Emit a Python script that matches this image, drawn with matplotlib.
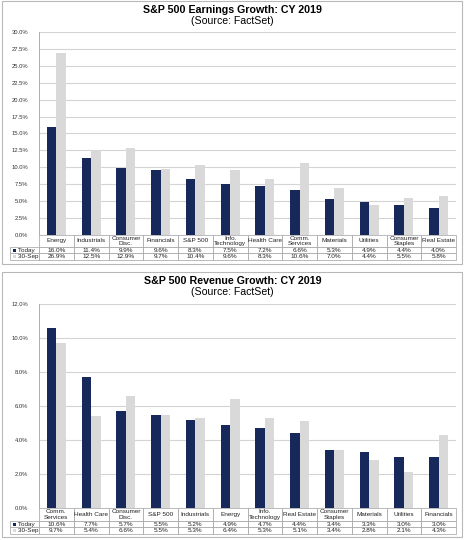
import numpy as np
import matplotlib
matplotlib.use('Agg')
import matplotlib.pyplot as plt
from matplotlib.patches import Rectangle

plt.rcParams['font.family'] = ['Liberation Sans', 'DejaVu Sans']

# Earnings growth data (CY 2019)
earn_cats = ['Energy', 'Industrials', 'Consumer\nDisc.', 'Financials', 'S&P 500',
             'Info.\nTechnology', 'Health Care', 'Comm.\nServices', 'Materials',
             'Utilities', 'Consumer\nStaples', 'Real Estate']
earn_today = [16.0, 11.4, 9.9, 9.6, 8.3, 7.5, 7.2, 6.6, 5.3, 4.9, 4.4, 4.0]
earn_sep = [26.9, 12.5, 12.9, 9.7, 10.4, 9.6, 8.3, 10.6, 7.0, 4.4, 5.5, 5.8]

# Revenue growth data (CY 2019)
rev_cats = ['Comm.\nServices', 'Health Care', 'Consumer\nDisc.', 'S&P 500', 'Industrials',
            'Energy', 'Info.\nTechnology', 'Real Estate', 'Consumer\nStaples', 'Materials',
            'Utilities', 'Financials']
rev_today = [10.6, 7.7, 5.7, 5.5, 5.2, 4.9, 4.7, 4.4, 3.4, 3.3, 3.0, 3.0]
rev_sep = [9.7, 5.4, 6.6, 5.5, 5.3, 6.4, 5.3, 5.1, 3.4, 2.8, 2.1, 4.3]

NAVY = '#16295a'
LIGHT = '#d9d9d9'
GRID = '#d4d4d4'
W, H = 465, 540


def draw_panel(fig, rect_px, box_px, title, cats, today, sep, ymax, ystep, table_px):
    left, top, right, bottom = rect_px
    ax = fig.add_axes([left / W, 1 - bottom / H, (right - left) / W, (bottom - top) / H])
    x = np.arange(len(cats))
    bw = 0.275
    ax.bar(x - bw / 2, today, bw, color=NAVY, zorder=3)
    ax.bar(x + bw / 2, sep, bw, color=LIGHT, zorder=3)
    ax.set_xlim(-0.5, len(cats) - 0.5)
    ax.set_ylim(0, ymax)
    ticks = np.arange(0, ymax + ystep / 2, ystep)
    ax.set_yticks(ticks)
    ax.set_yticklabels(['%.1f%%' % t for t in ticks], fontsize=4.2, color='#333333')
    ax.set_xticks([])
    ax.yaxis.grid(True, color=GRID, linewidth=0.8, zorder=0)
    ax.tick_params(axis='y', length=0, pad=8)
    for s in ['top', 'right', 'bottom']:
        ax.spines[s].set_visible(False)
    ax.spines['left'].set_color('#a0a0a0')
    ax.spines['left'].set_linewidth(0.6)

    # data table below the bars
    hdr, r1, r2 = table_px
    ah = bottom - top
    tot = r2 - bottom
    cell_text = [['%.1f%%' % v for v in today], ['%.1f%%' % v for v in sep]]
    tbl = ax.table(cellText=cell_text, colLabels=cats,
                   rowLabels=['    Today', '    30-Sep'],
                   cellLoc='center', rowLoc='left',
                   colWidths=[1.0 / len(cats)] * len(cats),
                   bbox=[0, -tot / ah, 1, tot / ah])
    tbl.auto_set_font_size(False)
    tbl.set_fontsize(4.6)
    hh = (hdr - bottom) / tot
    rh = (r1 - hdr) / tot
    lw = (left - 11) / (right - left)
    for (r, c), cell in tbl.get_celld().items():
        cell.set_edgecolor('#a0a0a0')
        cell.set_linewidth(0.5)
        cell.PAD = 0.02
        if r == 0:
            cell.set_height(hh)
        else:
            cell.set_height(rh)
        if c == -1:
            cell.set_width(lw)
        cell.get_text().set_color('#222222')
    tbl.set_zorder(4)

    # legend squares in the row label column
    for i, col in enumerate([NAVY, LIGHT]):
        yc = hdr + (i + 0.5) * (r1 - hdr)
        sq = 3.2
        fig.patches.append(Rectangle((13 / W, 1 - (yc + sq / 2) / H), sq / W, sq / H,
                                     transform=fig.transFigure, facecolor=col,
                                     edgecolor='none', zorder=6))

    # panel frame and titles
    bl, bt, br, bb = box_px
    fig.patches.append(Rectangle((bl / W, 1 - bb / H), (br - bl) / W, (bb - bt) / H,
                                 transform=fig.transFigure, facecolor='none',
                                 edgecolor='#b8b8b8', linewidth=0.8, zorder=1))
    fig.text(0.5, 1 - (bt + 9) / H, title, ha='center', va='center',
             fontsize=7.7, fontweight='bold')
    fig.text(0.5, 1 - (bt + 20) / H, '(Source: FactSet)', ha='center', va='center',
             fontsize=7.6)
    return ax


fig = plt.figure(figsize=(W / 100, H / 100), dpi=100)
fig.patch.set_facecolor('white')

draw_panel(fig, (39, 32, 456, 235), (2, 1, 462, 264),
           'S&P 500 Earnings Growth: CY 2019', earn_cats, earn_today, earn_sep,
           30.0, 2.5, (247, 253.3, 259.6))
draw_panel(fig, (39, 304, 456, 508), (2, 272, 462, 537),
           'S&P 500 Revenue Growth: CY 2019', rev_cats, rev_today, rev_sep,
           12.0, 2.0, (521, 527.3, 533.6))

fig.savefig('out.png', dpi=100)
